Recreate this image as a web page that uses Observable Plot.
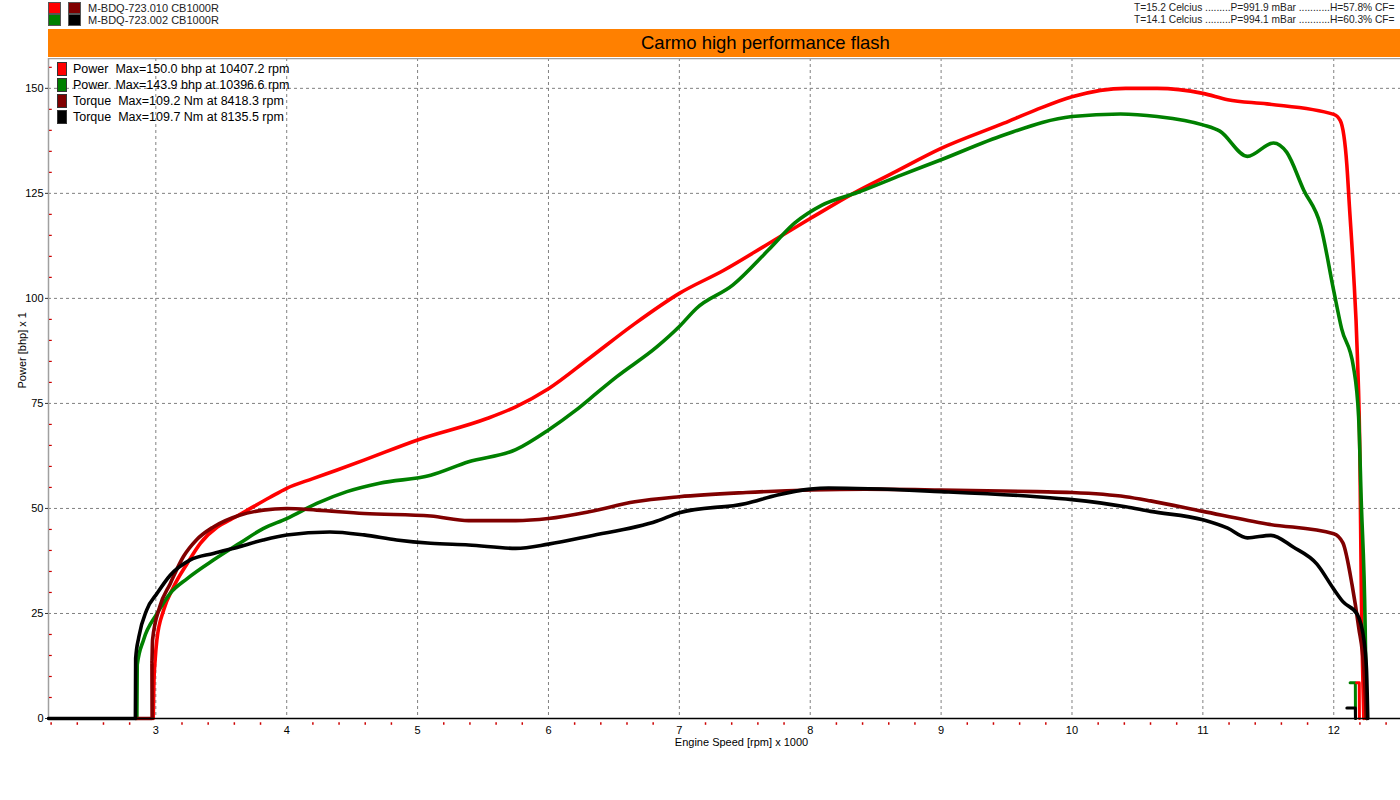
<!DOCTYPE html>
<html>
<head>
<meta charset="utf-8">
<script src="https://cdn.jsdelivr.net/npm/d3@7"></script>
<script src="https://cdn.jsdelivr.net/npm/@observablehq/plot@0.6"></script>
<style>
  html, body { margin: 0; padding: 0; background: #fff; }
  body { width: 1400px; height: 800px; overflow: hidden; font-family: "Liberation Sans", Arial, sans-serif; }
  #wrap { position: relative; width: 1400px; height: 800px; overflow: hidden; }
  #header { position: relative; height: 58px; width: 1400px; }
  .hrow { position: absolute; left: 48px; height: 12px; font-size: 11px; line-height: 12px; color: #222; white-space: nowrap; }
  .sq { position: absolute; width: 11px; height: 10px; border: 1px solid #555; top: 0; }
  .htxt { position: absolute; left: 40px; top: 0; }
  .rtxt { position: absolute; left: 1134px; font-size: 10.2px; line-height: 12px; color: #222; white-space: pre; }
  #banner { position: absolute; left: 48px; top: 29px; width: 1352px; height: 28px; background: #ff8000; }
  #title { position: absolute; left: 641px; top: 33px; font-size: 18.5px; line-height: 20px; color: #000; white-space: nowrap; }
  #legend { position: absolute; left: 57px; top: 61px; font-size: 12.5px; line-height: 16px; color: #000; }
  .lrow { position: relative; height: 16px; white-space: pre; }
  .lsq { position: absolute; left: 0; top: 1px; width: 8px; height: 12px; border: 1px solid #333; }
  .ltxt { position: absolute; left: 16px; top: 0; white-space: pre; }
  #chart { position: absolute; left: 0; top: 58px; }
</style>
</head>
<body>
<div id="wrap">
  <div id="header"></div>
  <div id="chart"></div>
  <div id="legend"></div>
</div>
<script>
// ---------- data ----------
const runNames = ["M-BDQ-723.010 CB1000R", "M-BDQ-723.002 CB1000R"];
const runConditions = [
  "T=15.2 Celcius .........P=991.9 mBar ...........H=57.8% CF=",
  "T=14.1 Celcius .........P=994.1 mBar ...........H=60.3% CF="
];
const titleText = "Carmo high performance flash";
const legendLabels = [
  "Power  Max=150.0 bhp at 10407.2 rpm",
  "Power  Max=143.9 bhp at 10396.6 rpm",
  "Torque  Max=109.2 Nm at 8418.3 rpm",
  "Torque  Max=109.7 Nm at 8135.5 rpm"
];
const seriesColors = ["#ff0000", "#008000", "#800000", "#000000"];

// Run .010 power (bhp) vs engine speed (rpm x 1000)
const power1Rpm = [2.98, 2.985, 2.995, 3.008, 3.06, 3.135, 3.24, 3.34, 3.47, 3.57, 3.7, 3.87, 4.0, 4.2, 4.38, 4.59, 5.0, 5.53, 5.75, 6.0, 6.31, 6.66, 7.0, 7.34, 7.68, 8.0, 8.33, 8.63, 9.0, 9.48, 9.72, 10.0, 10.41, 10.65, 11.0, 11.19, 11.49, 12.0, 12.05, 12.1, 12.12, 12.15, 12.18, 12.2, 12.21, 12.23];
const power1Bhp = [0, 8, 14, 18.7, 25.8, 31.3, 36.9, 41.7, 45.6, 47.3, 49.6, 52.6, 54.8, 57.1, 59.1, 61.5, 66.3, 71.4, 74.2, 78.5, 85.7, 94, 101.2, 106.7, 113, 119, 125, 129.8, 135.7, 141.7, 144.8, 148, 150, 150, 148.8, 147.3, 146.3, 143.8, 142.3, 131.8, 121.8, 106.8, 86.8, 61.8, 31.8, 0];

// Run .002 power (bhp)
const power2Rpm = [2.855, 2.858, 2.906, 3.01, 3.11, 3.24, 3.44, 3.64, 3.82, 4.0, 4.23, 4.46, 4.71, 5.1, 5.39, 5.75, 6.0, 6.21, 6.37, 6.52, 6.83, 7.0, 7.13, 7.41, 7.68, 7.88, 8.09, 8.36, 8.7, 9.0, 9.48, 10.0, 10.37, 10.65, 11.0, 11.13, 11.34, 11.54, 11.64, 11.77, 11.9, 12.0, 12.06, 12.15, 12.19, 12.21, 12.24, 12.25];
const power2Bhp = [0, 12.8, 18.7, 25, 29.8, 33.3, 37.7, 41.7, 45.2, 47.6, 51.2, 54, 56, 57.9, 61.1, 64, 68.7, 73.4, 77.5, 81.3, 88.5, 93.3, 97.6, 103.2, 111.5, 117.9, 122.2, 125.2, 129.4, 133, 138.9, 143.3, 143.9, 143.3, 141.3, 139.8, 133.8, 137, 134.8, 125.8, 117.3, 101.8, 92.8, 83.8, 71.8, 51.8, 21.8, 0];

// Run .010 torque (Nm)
const torque1Rpm = [2.845, 2.972, 2.97, 2.975, 3.03, 3.11, 3.21, 3.31, 3.44, 3.64, 3.82, 4.0, 4.23, 4.59, 5.1, 5.39, 5.75, 6.0, 6.31, 6.66, 7.0, 7.51, 8.0, 8.42, 9.0, 9.73, 10.0, 10.41, 10.6, 11.0, 11.49, 12.0, 12.07, 12.14, 12.19, 12.23, 12.25];
const torque1Nm = [0, 0, 27, 37.4, 53.2, 64.2, 77, 85, 91.2, 96.8, 99.2, 100, 99.2, 97.6, 96.4, 94.2, 94.2, 95.2, 98.4, 103.2, 105.6, 107.6, 108.8, 109.2, 108.8, 108, 107.6, 105.6, 103.6, 98.6, 92.6, 88, 83.6, 63.6, 43.6, 23.6, 0];

// Run .002 torque (Nm)
const torque2Rpm = [2.18, 2.844, 2.846, 2.87, 2.93, 3.01, 3.11, 3.26, 3.44, 3.64, 3.82, 4.0, 4.33, 4.59, 4.84, 5.1, 5.39, 5.75, 6.0, 6.31, 6.83, 7.0, 7.51, 7.75, 8.0, 8.14, 9.0, 9.73, 10.0, 10.41, 10.6, 11.0, 11.19, 11.34, 11.52, 11.69, 11.87, 12.0, 12.07, 12.18, 12.23, 12.25, 12.26];
const torque2Nm = [0, 0, 28.6, 38.8, 51.6, 59.6, 68.2, 75.4, 78.6, 81.8, 85, 87.4, 88.8, 87.4, 85, 83.4, 82.6, 81, 83, 86.8, 94, 98, 102.4, 106.4, 109.2, 109.7, 108, 105.6, 104.2, 100.8, 98.6, 94.6, 90.6, 86, 87.2, 81.6, 73.6, 61.6, 55.6, 49.6, 37.6, 23.6, 0];

// run-down tails at the end of each pull
const tail1PowerRpm = [12.175, 12.195, 12.196];
const tail1PowerBhp = [8.5, 8.5, 0];
const tail2PowerRpm = [12.125, 12.165, 12.166];
const tail2PowerBhp = [8.5, 8.5, 0];
const tail2TorqueRpm = [12.1, 12.165, 12.166];
const tail2TorqueNm = [5, 5, 0];

const torqueScale = 0.5; // torque drawn on the power axis at 1/2 scale
const xTicks = [3, 4, 5, 6, 7, 8, 9, 10, 11, 12];
const yTicks = [0, 25, 50, 75, 100, 125, 150];
const xDomain = [2.18, 12.51];
const yDomain = [0, 157.1];

// ---------- header ----------
const header = document.getElementById("header");
runNames.forEach((name, i) => {
  const row = document.createElement("div");
  row.className = "hrow";
  row.style.top = (2 + i * 12) + "px";
  const s1 = document.createElement("div"); s1.className = "sq"; s1.style.left = "0px"; s1.style.background = seriesColors[i];
  const s2 = document.createElement("div"); s2.className = "sq"; s2.style.left = "20px"; s2.style.background = seriesColors[i + 2];
  const t = document.createElement("div"); t.className = "htxt"; t.textContent = name;
  row.append(s1, s2, t);
  header.append(row);
  const r = document.createElement("div");
  r.className = "rtxt"; r.style.top = (2 + i * 12) + "px"; r.textContent = runConditions[i];
  header.append(r);
});
const banner = document.createElement("div"); banner.id = "banner"; header.append(banner);
const title = document.createElement("div"); title.id = "title"; title.textContent = titleText; header.append(title);

const legend = document.getElementById("legend");
legendLabels.forEach((lab, i) => {
  const row = document.createElement("div"); row.className = "lrow";
  const s = document.createElement("div"); s.className = "lsq"; s.style.background = seriesColors[i];
  const t = document.createElement("div"); t.className = "ltxt"; t.textContent = lab;
  row.append(s, t); legend.append(row);
});

// ---------- chart ----------
const zip = (xs, ys, f = 1) => xs.map((x, i) => ({x, y: ys[i] * f}));
const p1 = zip(power1Rpm, power1Bhp);
const p2 = zip(power2Rpm, power2Bhp);
const t1 = zip(torque1Rpm, torque1Nm, torqueScale);
const t2 = zip(torque2Rpm, torque2Nm, torqueScale);
const tp1 = zip(tail1PowerRpm, tail1PowerBhp);
const tp2 = zip(tail2PowerRpm, tail2PowerBhp);
const tt2 = zip(tail2TorqueRpm, tail2TorqueNm, torqueScale);

const minorX = d3.range(2.2, 12.51, 0.2).filter(v => Math.abs(v - Math.round(v)) > 0.01);
const minorY = d3.range(5, 157, 5).filter(v => v % 25 !== 0);

const lineOpts = (c) => ({x: "x", y: "y", stroke: c, strokeWidth: 3.6, strokeLinejoin: "round", curve: "monotone-x"});
const tailOpts = (c) => ({x: "x", y: "y", stroke: c, strokeWidth: 3, curve: "linear"});

const chart = Plot.plot({
  width: 1400,
  height: 742,
  marginLeft: 48,
  marginRight: 0,
  marginTop: 0,
  marginBottom: 82,
  style: {fontFamily: "Liberation Sans, Arial, sans-serif", fontSize: "11px", color: "#000", background: "transparent"},
  x: {domain: xDomain, range: [48, 1400]},
  y: {domain: yDomain},
  marks: [
    Plot.ruleX(xTicks, {stroke: "#808080", strokeWidth: 1, strokeDasharray: "3,3"}),
    Plot.ruleY(yTicks.slice(1), {stroke: "#808080", strokeWidth: 1, strokeDasharray: "3,3"}),
    Plot.ruleX([xDomain[0]], {stroke: "#a0a0a0", strokeWidth: 1.5}),
    Plot.ruleY([yDomain[1]], {stroke: "#a0a0a0", strokeWidth: 1.5}),
    Plot.link(minorY, {x1: xDomain[0] + 0.004, x2: xDomain[0] + 0.025, y1: d => d, y2: d => d, stroke: "#cc0000", strokeWidth: 1.2}),
    Plot.axisY(yTicks, {tickSize: 3, tickPadding: 2, fontSize: 11, stroke: "#333", label: null}),
    Plot.axisX(xTicks, {tickSize: 0, tickPadding: 8, fontSize: 11, label: null, tickFormat: d => String(d)}),
    Plot.link(minorX, {x1: d => d, x2: d => d, y1: -0.9, y2: -1.5, stroke: "#cc0000", strokeWidth: 1.5, clip: false}),
    Plot.line(p1, lineOpts(seriesColors[0])),
    Plot.line(p2, lineOpts(seriesColors[1])),
    Plot.line(tp2, tailOpts(seriesColors[1])),
    Plot.line(tp1, tailOpts(seriesColors[0])),
    Plot.line(t1, lineOpts(seriesColors[2])),
    Plot.line(t2, lineOpts(seriesColors[3])),
    Plot.line(tt2, tailOpts(seriesColors[3])),
    Plot.ruleY([0], {stroke: "#000", strokeWidth: 1.5}),
    Plot.text(["Engine Speed [rpm] x 1000"], {frameAnchor: "bottom", dx: 17, dy: 27, fontSize: 11, fill: "#000"}),
    Plot.text(["Power [bhp] x 1"], {frameAnchor: "left", dx: -26, rotate: -90, fontSize: 11, fill: "#000"})
  ]
});
document.getElementById("chart").append(chart);
</script>
</body>
</html>
